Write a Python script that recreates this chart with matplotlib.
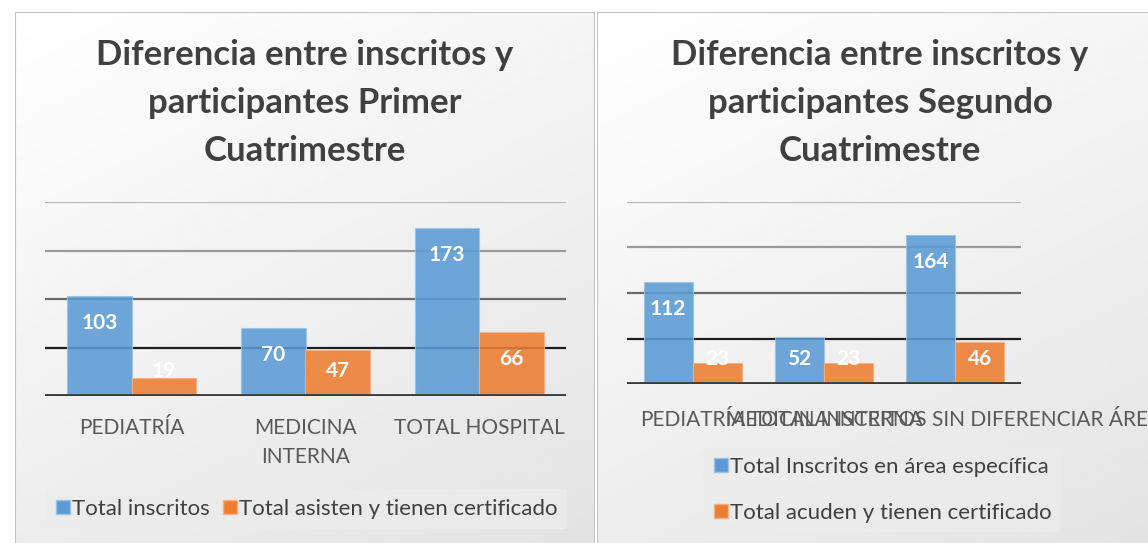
import numpy as np
import matplotlib
matplotlib.use("Agg")
import matplotlib.pyplot as plt
from matplotlib.lines import Line2D
from matplotlib.patches import Rectangle

plt.rcParams['font.family'] = ['Lato', 'DejaVu Sans']

# data
cats_1 = ["PEDIATRÍA", "MEDICINA\nINTERNA", "TOTAL HOSPITAL"]
inscritos_1 = [103, 70, 173]
asisten_1 = [19, 47, 66]
title_1 = "Diferencia entre inscritos y\nparticipantes Primer\nCuatrimestre"
legend_1 = ["Total inscritos", "Total asisten y tienen certificado"]

cats_2 = ["PEDIATRÍA", "MEDICINA INTERNA", "TOTAL INSCRITOS SIN DIFERENCIAR ÁREA"]
inscritos_2 = [112, 52, 164]
asisten_2 = [23, 23, 46]
title_2 = "Diferencia entre inscritos y\nparticipantes Segundo\nCuatrimestre"
legend_2 = ["Total Inscritos en área específica", "Total acuden y tienen certificado"]

grid_vals = [50, 100, 150, 200]
grid_cols = ['#1e1e1e', '#6a6a6a', '#9a9a9a', '#b8b8b8']

BLUE = '#5B9BD5'
ORANGE = '#ED7D31'
TXT = '#404040'
W, H = 1148, 543

fig = plt.figure(figsize=(W / 100, H / 100), dpi=100)


def px(x0, y0, x1, y1):
    # pixel box (top-left origin) -> figure fraction rect
    return [x0 / W, 1 - y1 / H, (x1 - x0) / W, (y1 - y0) / H]


# panel backgrounds with a soft gradient
for x0, x1 in [(15, 595), (597, 1170)]:
    bg = fig.add_axes(px(x0, 12, x1, 545), zorder=-10)
    gx, gy = np.meshgrid(np.linspace(0, 1, 200), np.linspace(0, 1, 200))
    g = 1.0 - 0.11 * (0.35 * gx + 0.65 * gy)
    bg.imshow(g, cmap='gray', vmin=0, vmax=1, aspect='auto', extent=(0, 1, 0, 1), origin='upper')
    bg.add_patch(Rectangle((0, 0), 1, 1, transform=bg.transAxes, fill=False,
                           edgecolor='#c4c4c4', lw=1.5))
    bg.set_xlim(0, 1)
    bg.set_ylim(0, 1)
    bg.axis('off')


def draw(rect, cats, s1, s2, title, tcx, lab_pad):
    ax = fig.add_axes(rect)
    ax.set_facecolor('none')
    x = np.arange(len(cats))
    bw = 0.372
    ax.bar(x - bw / 2, s1, bw, color=BLUE, alpha=0.88, edgecolor='#9cc3e6', lw=0.8, zorder=3)
    ax.bar(x + bw / 2, s2, bw, color=ORANGE, alpha=0.88, edgecolor='#f4b183', lw=0.8, zorder=3)
    for v, c in zip(grid_vals, grid_cols):
        ax.axhline(v, color=c, lw=1.6, zorder=1)
    ax.axhline(0, color='#3c3c3c', lw=3.5, zorder=4)
    ax.set_xlim(-0.5, len(cats) - 0.5)
    ax.set_ylim(0, 200)
    for s in ax.spines.values():
        s.set_visible(False)
    ax.set_yticks([])
    ax.set_xticks(x)
    ax.set_xticklabels(cats, fontsize=15, color='#595959', linespacing=1.55)
    ax.tick_params(axis='x', length=0, pad=lab_pad)
    # data labels: inside end, kept above the base for short bars
    hpx = ax.get_position().height * H
    upx = hpx / 200.0
    for xs, vals in [(x - bw / 2, s1), (x + bw / 2, s2)]:
        for xi, v in zip(xs, vals):
            yl = max(v - 27 / upx, 25 / upx)
            ax.text(xi, yl, str(v), ha='center', va='center', color='white',
                    fontsize=15, fontweight='bold', zorder=5)
    fig.text(tcx / W, 1 - 103 / H, title, ha='center', va='center', fontsize=25,
             fontweight='bold', color=TXT, linespacing=1.6)
    return ax


draw(px(45, 202, 566, 396), cats_1, inscritos_1, asisten_1, title_1, 305, 16)
draw(px(627, 202, 1021, 384), cats_2, inscritos_2, asisten_2, title_2, 880, 19)


def handles(labels):
    return [Line2D([], [], marker='s', ls='', markersize=10, markerfacecolor=c,
                   markeredgecolor=e, label=l)
            for c, e, l in zip([BLUE, ORANGE], ['#9cc3e6', '#f4b183'], labels)]


leg1 = fig.legend(handles=handles(legend_1), loc='center', bbox_to_anchor=(306 / W, 1 - 509 / H),
                  ncol=2, frameon=True, fontsize=16, handletextpad=0.0, columnspacing=0.5,
                  borderpad=0.45, handlelength=0.8)
leg2 = fig.legend(handles=handles(legend_2), loc='center', bbox_to_anchor=(882 / W, 1 - 490 / H),
                  ncol=1, frameon=True, fontsize=16, handletextpad=0.0, labelspacing=1.15,
                  borderpad=0.4, handlelength=0.8)
for lg in (leg1, leg2):
    lg.get_frame().set_facecolor('#ececec')
    lg.get_frame().set_edgecolor('none')
    lg.get_frame().set_alpha(0.8)
    for t in lg.get_texts():
        t.set_color(TXT)

fig.savefig('out.png', dpi=100)
